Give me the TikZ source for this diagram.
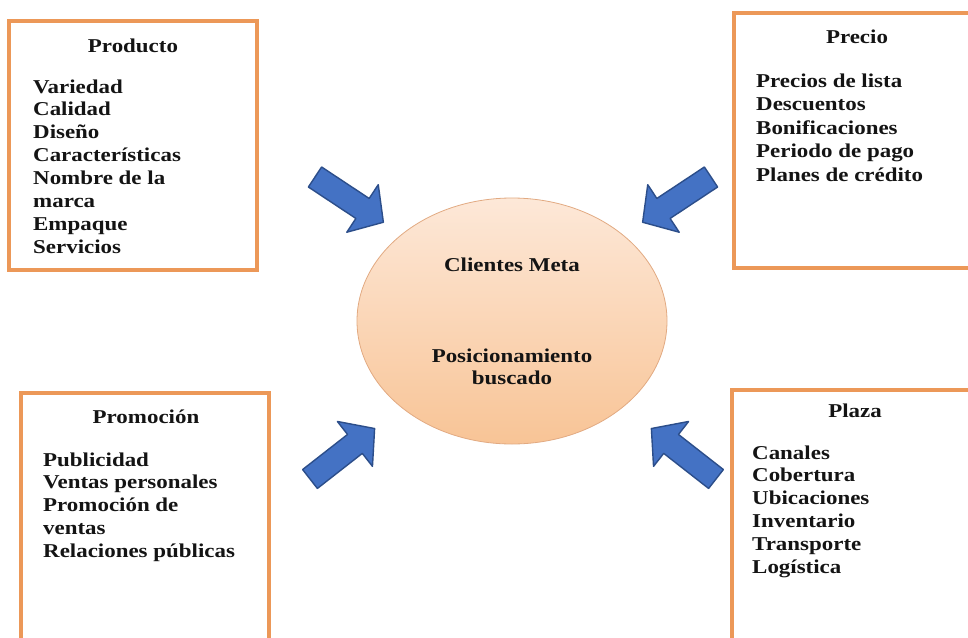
\documentclass[tikz,border=0pt]{standalone}
\usepackage{fontspec}
\setmainfont{Liberation Serif}[FakeStretch=1.17]
\usetikzlibrary{shapes.geometric}
\definecolor{boxor}{RGB}{236,152,88}
\definecolor{arrblue}{RGB}{68,114,196}
\definecolor{arrdark}{RGB}{44,78,138}
\definecolor{elltop}{RGB}{253,232,216}
\definecolor{ellbot}{RGB}{248,196,150}
\definecolor{elledge}{RGB}{226,170,130}
\definecolor{txt}{RGB}{20,20,20}
\begin{document}
\begin{tikzpicture}[x=1pt,y=-1pt,
  box/.style={draw=boxor, line width=3.2pt},
  ttl/.style={anchor=base, inner sep=0, text=txt, font=\bfseries\fontsize{19.6}{23}\selectfont},
  itm/.style={anchor=base west, inner sep=0, text=txt, font=\bfseries\fontsize{19.6}{23}\selectfont},
  arrowfill/.style={fill=arrblue, draw=arrdark, line width=1.4pt, line join=round},
  blockarrow/.pic={\path[arrowfill] (0,-12) -- (57,-12) -- (57,-28.5) -- (82,0) -- (57,28.5) -- (57,12) -- (0,12) -- cycle;}
]
\useasboundingbox (0,0) rectangle (968,637);
\fill[white] (0,0) rectangle (968,637);
\clip (0,0) rectangle (968,637);

% boxes
\draw[box] (9,21) rectangle (257,270);
\draw[box] (734,13) rectangle (974,268);
\draw[box] (21,393) rectangle (269,650);
\draw[box] (732,390) rectangle (974,650);

% Producto
\node[ttl] (prodt) at (133,52) {Producto};
\foreach \t [count=\i from 0] in {Variedad,Calidad,Diseño,Características,Nombre de la,marca,Empaque,Servicios}
  \node[itm] (prod\i) at (33,93+22.9*\i) {\t};

% Precio
\node[ttl] (prect) at (857,43) {Precio};
\foreach \t [count=\i from 0] in {Precios de lista,Descuentos,Bonificaciones,Periodo de pago,Planes de crédito}
  \node[itm] (prec\i) at (756,87+23.5*\i) {\t};

% Promocion
\node[ttl] (promt) at (146,423) {Promoción};
\foreach \t [count=\i from 0] in {Publicidad,Ventas personales,Promoción de,ventas,Relaciones públicas}
  \node[itm] (prom\i) at (43,466+22.8*\i) {\t};

% Plaza
\node[ttl] (plazt) at (855,417) {Plaza};
\foreach \t [count=\i from 0] in {Canales,Cobertura,Ubicaciones,Inventario,Transporte,Logística}
  \node[itm] (plaz\i) at (752,459+22.8*\i) {\t};

% central ellipse
\node[ellipse, draw=elledge, line width=0.8pt, top color=elltop, bottom color=ellbot,
      minimum width=310pt, minimum height=246pt, inner sep=0] (cm) at (512,321) {};
\node[ttl] (cmt) at (512,271) {Clientes Meta};
\node[ttl] (pos1) at (512,362) {Posicionamiento};
\node[ttl] (pos2) at (512,384) {buscado};

% block arrows
\pic[rotate=-33.5] (atl) at (315,177) {blockarrow};
\pic[rotate=-146.5] (atr) at (711,177) {blockarrow};
\pic[rotate=38] (abl) at (310,479) {blockarrow};
\pic[rotate=142] (abr) at (716,479) {blockarrow};
\end{tikzpicture}
\end{document}
